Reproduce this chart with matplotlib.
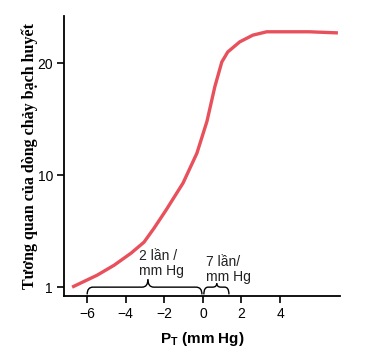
import numpy as np
import matplotlib.pyplot as plt
from matplotlib.path import Path
from matplotlib.patches import PathPatch

# curve (x = P_T in mm Hg, y = relative lymph flow)
pt = [-6.78, -5.48, -4.60, -3.72, -3.05, -2.53, -1.91, -1.03, -0.31, 0.21, 0.62,
      0.98, 1.29, 1.91, 2.59, 3.31, 3.98, 5.5, 7.0]
flow = [0.0, 1.07, 1.96, 3.04, 4.02, 5.27, 6.88, 9.29, 11.96, 14.8, 17.9,
        20.1, 21.0, 21.9, 22.5, 22.8, 22.8, 22.8, 22.7]

xticks = [-6, -4, -2, 0, 2, 4]
yticks = [0, 10, 20]
ytick_labels = ["1", "10", "20"]

# braces: (start, end, tip) in mm Hg
braces = [(-6.0, -0.05, -2.85), (0.05, 1.35, 0.72)]
brace_tip_h = [0.7, 0.35]
brace_texts = ["2 lần /\nmm Hg", "7 lần/\nmm Hg"]
text_pos = [(-3.3, 0.85), (0.15, 0.3)]

fig = plt.figure(figsize=(3.84, 3.5), dpi=100)
ax = fig.add_axes([0.1667, 0.154, 0.7183, 0.80])

ax.plot(pt, flow, color="#e8505b", lw=2.4, solid_capstyle="butt", solid_joinstyle="round")


def brace(ax, x0, x1, xm, y0=0.0, h_up=0.7, h_down=0.7, r=0.3):
    codes = [Path.MOVETO, Path.CURVE3, Path.CURVE3, Path.LINETO, Path.CURVE3, Path.CURVE3]
    left = [(x0, y0 - h_down), (x0, y0), (x0 + r, y0), (xm - r, y0), (xm, y0), (xm, y0 + h_up)]
    right = [(x1, y0 - h_down), (x1, y0), (x1 - r, y0), (xm + r, y0), (xm, y0), (xm, y0 + h_up)]
    for verts in (left, right):
        ax.add_patch(PathPatch(Path(verts, codes), fc="none", ec="black", lw=1.0,
                               clip_on=False))


for (b0, b1, bm), hu, txt, (tx, ty) in zip(braces, brace_tip_h, brace_texts, text_pos):
    r = min(0.3, (b1 - b0) / 6)
    brace(ax, b0, b1, bm, h_up=hu, h_down=0.65, r=r)
    ax.text(tx, ty, txt, fontsize=10, ha="left", va="bottom", linespacing=1.05,
            family="Liberation Sans", color="#222222")

ax.set_xlim(-7.2, 7.1)
ax.set_ylim(-0.8, 24.2)
ax.set_xticks(xticks)
ax.set_yticks(yticks)
ax.set_yticklabels(ytick_labels)
for lab in ax.get_xticklabels() + ax.get_yticklabels():
    lab.set_family("Liberation Sans")
    lab.set_fontsize(10)
ax.tick_params(direction="out", length=5, width=1.2, pad=3)
ax.spines["top"].set_visible(False)
ax.spines["right"].set_visible(False)
ax.spines["left"].set_linewidth(1.3)
ax.spines["bottom"].set_linewidth(1.3)

ax.set_xlabel(r"P$_\mathregular{T}$ (mm Hg)", fontsize=11, fontweight="bold",
              family="Liberation Sans", labelpad=6)
ax.set_ylabel("Tương quan của dòng chảy bạch huyết", fontsize=11.5, fontweight="bold",
              family="Liberation Serif")
ax.yaxis.set_label_coords(-0.095, 0.5)

fig.savefig("out.png", dpi=100)
